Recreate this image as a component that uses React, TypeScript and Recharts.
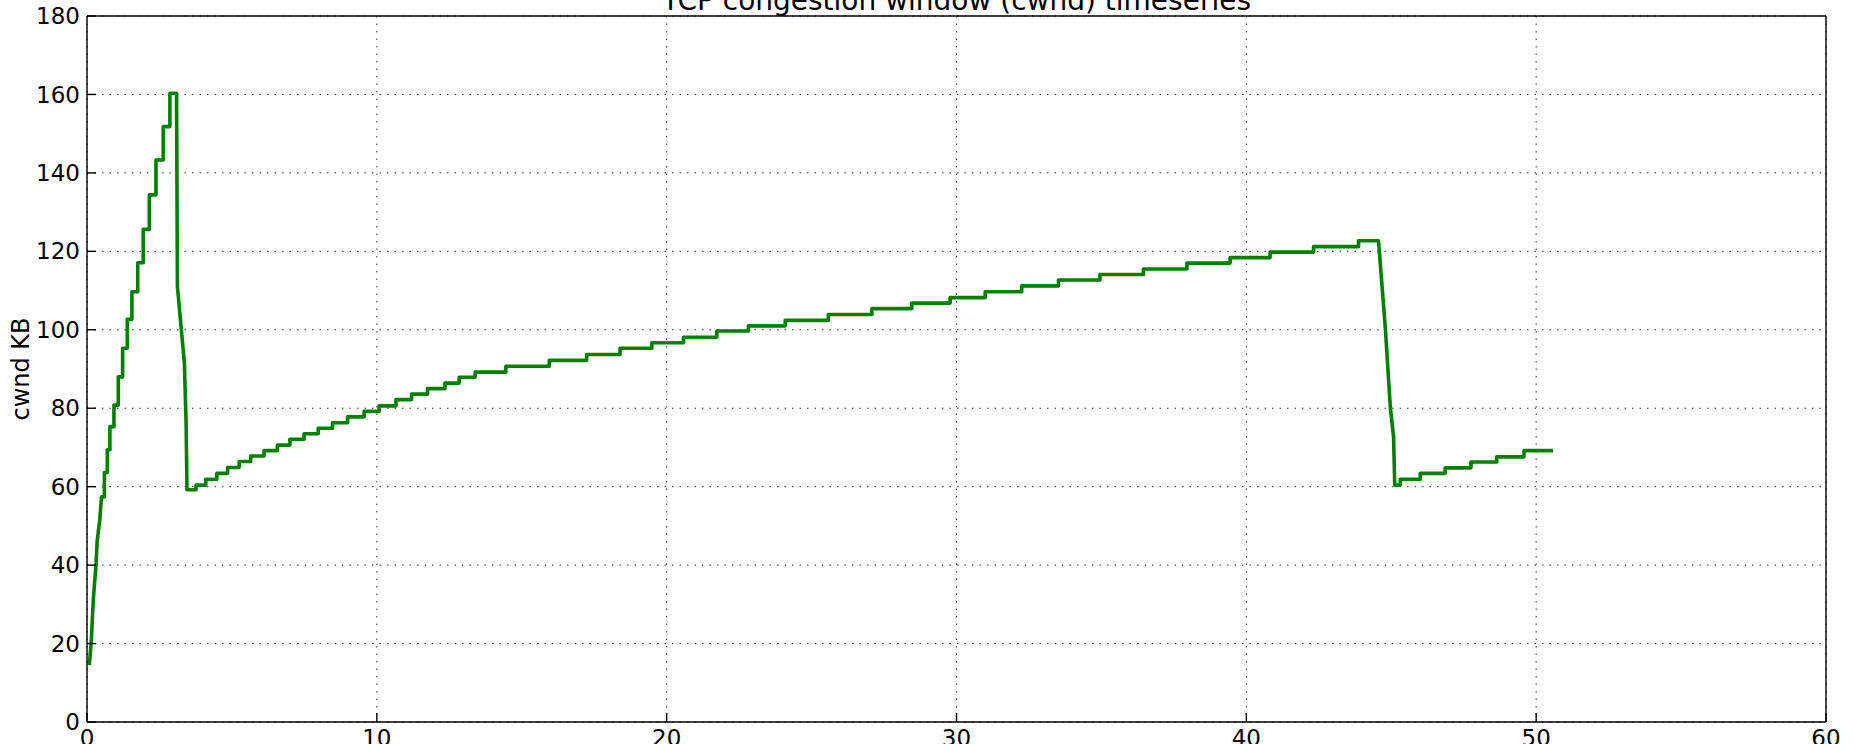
import { LineChart, Line, XAxis, YAxis, CartesianGrid } from "recharts";

// cwnd samples, seconds / kilobytes
// initial ramp before the first visible stairs
const rampTime = [0.08, 0.15, 0.22, 0.31, 0.35, 0.44];
const rampCwnd = [14.5, 21, 31.5, 40, 46, 51.5];

// slow start stairs: step start times and the window held on each step
const slowStartTime = [0.5, 0.6, 0.7, 0.79, 0.93, 1.08, 1.23, 1.39, 1.55, 1.75, 1.94, 2.15, 2.38, 2.63, 2.86];
const slowStartCwnd = [57.4, 63.6, 69.4, 75.3, 80.8, 88.0, 95.3, 102.7, 109.7, 117.1, 125.6, 134.4, 143.3, 151.8, 160.3];
const slowStartEnd = 3.09;

// first loss: window collapses
const backoffTime = [3.12, 3.36, 3.42];
const backoffCwnd = [111, 91.5, 76];

// congestion avoidance stairs
const avoidTime = [
  3.45, 3.76, 4.1, 4.48, 4.85, 5.25, 5.65, 6.11, 6.57, 7.0, 7.49, 7.98, 8.47, 8.99, 9.56,
  10.08, 10.66, 11.2, 11.75, 12.35, 12.84, 13.39, 14.45, 15.95, 17.24, 18.39, 19.49, 20.58,
  21.73, 22.82, 24.09, 25.58, 27.08, 28.46, 29.78, 30.99, 32.25, 33.52, 34.95, 36.45, 37.95,
  39.44, 40.82, 42.32, 43.87,
];
const avoidCwnd = [
  59.2, 60.4, 61.9, 63.4, 64.9, 66.4, 67.8, 69.2, 70.6, 72.1, 73.5, 74.9, 76.3, 77.8, 79.2,
  80.6, 82.2, 83.6, 85.0, 86.4, 87.9, 89.2, 90.7, 92.2, 93.7, 95.3, 96.7, 98.1, 99.7, 101.0,
  102.4, 103.9, 105.4, 106.8, 108.2, 109.7, 111.2, 112.7, 114.1, 115.5, 117.0, 118.4, 119.8,
  121.2, 122.7,
];
const avoidEnd = 44.56;

// second loss
const lossTime = [44.8, 44.97, 45.08];
const lossCwnd = [100, 80, 72.7];

// recovery stairs
const recoverTime = [45.12, 45.31, 46.0, 46.86, 47.75, 48.64, 49.58];
const recoverCwnd = [60.4, 61.9, 63.4, 64.8, 66.3, 67.6, 69.2];
const recoverEnd = 50.58;

const xTicks = [0, 10, 20, 30, 40, 50, 60];
const yTicks = [0, 20, 40, 60, 80, 100, 120, 140, 160, 180];

type Pt = { t: number; cwnd: number };

const zip = (ts: number[], vs: number[]): Pt[] => ts.map((t, i) => ({ t, cwnd: vs[i] }));

// each step holds its value until the next one starts
const stairs = (starts: number[], values: number[], end: number): Pt[] =>
  values.flatMap((v, i) => [
    { t: starts[i], cwnd: v },
    { t: i + 1 < starts.length ? starts[i + 1] : end, cwnd: v },
  ]);

const points: Pt[] = [
  ...zip(rampTime, rampCwnd),
  ...stairs(slowStartTime, slowStartCwnd, slowStartEnd),
  ...zip(backoffTime, backoffCwnd),
  ...stairs(avoidTime, avoidCwnd, avoidEnd),
  ...zip(lossTime, lossCwnd),
  ...stairs(recoverTime, recoverCwnd, recoverEnd),
];

const font = "DejaVu Sans";
const tickStyle = { fontSize: 23, fill: "#000", fontFamily: font };
const frame = { stroke: "#000", strokeWidth: 1.4 };

export default function App() {
  return (
    <div>
      <style>{`body{margin:0}`}</style>
      <LineChart
        width={1854}
        height={744}
        data={points}
        margin={{ top: 15, right: 27, bottom: 0, left: 0 }}
      >
        <CartesianGrid stroke="#333" strokeWidth={1} strokeDasharray="1.5 6" />
        <XAxis
          dataKey="t"
          type="number"
          domain={[0, 60]}
          ticks={xTicks}
          interval={0}
          height={22}
          tickSize={-9}
          tickMargin={17}
          axisLine={frame}
          tickLine={frame}
          tick={tickStyle}
        />
        <XAxis
          xAxisId="top"
          orientation="top"
          dataKey="t"
          type="number"
          domain={[0, 60]}
          ticks={xTicks}
          interval={0}
          height={1}
          tickSize={-9}
          axisLine={frame}
          tickLine={frame}
          tick={false}
          label={{
            value: "TCP congestion window (cwnd) timeseries",
            position: "top",
            offset: 5,
            fontSize: 28,
            fill: "#000",
            fontFamily: font,
          }}
        />
        <YAxis
          type="number"
          domain={[0, 180]}
          ticks={yTicks}
          interval={0}
          width={87}
          tickSize={-9}
          tickMargin={16}
          axisLine={frame}
          tickLine={frame}
          tick={tickStyle}
          label={{
            value: "cwnd KB",
            angle: -90,
            position: "insideLeft",
            offset: 20,
            fontSize: 24,
            fill: "#000",
            fontFamily: font,
            style: { textAnchor: "middle" },
          }}
        />
        <YAxis
          yAxisId="right"
          orientation="right"
          type="number"
          domain={[0, 180]}
          ticks={yTicks}
          interval={0}
          width={1}
          tickSize={-9}
          axisLine={frame}
          tickLine={frame}
          tick={false}
        />
        <Line
          type="linear"
          dataKey="cwnd"
          stroke="#008000"
          strokeWidth={3.6}
          strokeLinejoin="round"
          dot={false}
          activeDot={false}
          isAnimationActive={false}
        />
      </LineChart>
    </div>
  );
}
